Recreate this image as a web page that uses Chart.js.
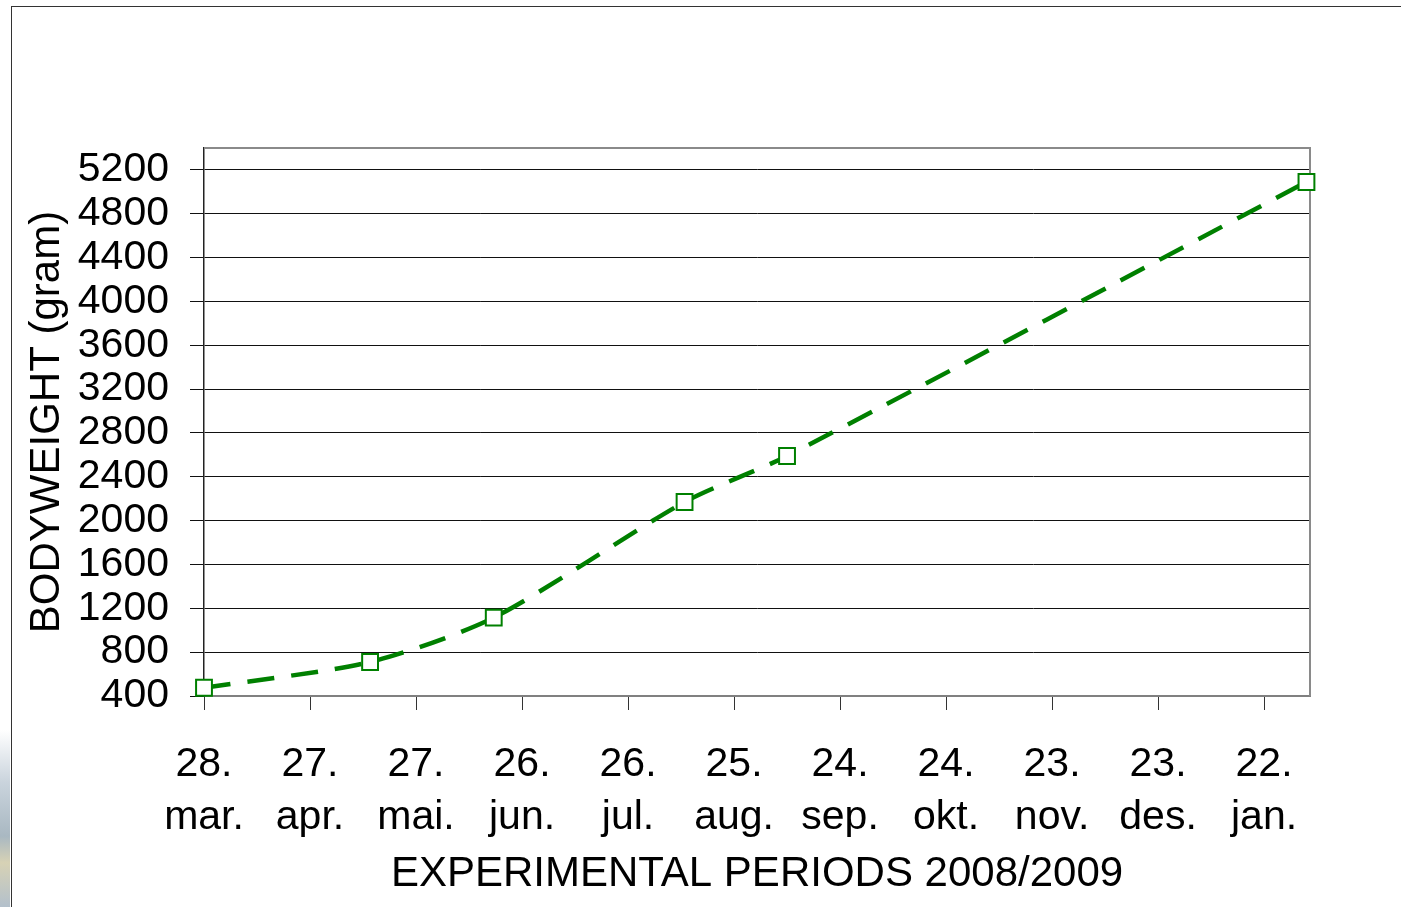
<!DOCTYPE html>
<html>
<head>
<meta charset="utf-8">
<script src="https://cdn.jsdelivr.net/npm/chart.js@4"></script>
<style>
  html,body{margin:0;padding:0;background:#fff;width:1401px;height:907px;overflow:hidden;}
  #frame{position:absolute;left:11px;top:6px;width:1500px;height:1000px;border:1.5px solid #333;box-sizing:border-box;}
  #photo{position:absolute;left:0;top:730px;width:10px;height:177px;background:linear-gradient(#ffffff,#c9d3dc 30%,#a9b8c2 60%,#d7d2b5 75%,#b3c0cc);}
  canvas{position:absolute;left:0;top:0;}
</style>
</head>
<body>
<div id="photo"></div>
<div id="frame"></div>
<canvas id="c" width="1401" height="907"></canvas>
<script>
// ---- data ----
const startDate = '2008-03-28';
const sampleDates = ['2008-03-28','2008-05-14','2008-06-18','2008-08-11','2008-09-09','2009-02-03'];
const bodyweight = [475, 710, 1115, 2170, 2590, 5090];
const xTickDays = [0,30,60,90,120,150,180,210,240,270,300];
const xTickLabels = [['28.','mar.'],['27.','apr.'],['27.','mai.'],['26.','jun.'],['26.','jul.'],['25.','aug.'],['24.','sep.'],['24.','okt.'],['23.','nov.'],['23.','des.'],['22.','jan.']];
const yTicks = [400,800,1200,1600,2000,2400,2800,3200,3600,4000,4400,4800,5200];
const yMin = 400, yMax = 5400, xMin = 0, xMax = 313;
const xTitle = 'EXPERIMENTAL PERIODS 2008/2009';
const yTitle = 'BODYWEIGHT (gram)';

const dayMs = 86400000;
const toDays = s => Math.round((Date.parse(s) - Date.parse(startDate)) / dayMs);
const points = sampleDates.map((d,i)=>({x: toDays(d), y: bodyweight[i]}));

const FONT = 'Liberation Sans, Arial, sans-serif';

const plotBorder = {
  id:'plotBorder',
  beforeDatasetsDraw(chart){
    const {ctx, chartArea:a} = chart;
    ctx.save();
    ctx.strokeStyle = '#8a8a8a';
    ctx.lineWidth = 2;
    ctx.beginPath();
    ctx.moveTo(a.left, a.top); ctx.lineTo(a.right, a.top); ctx.lineTo(a.right, a.bottom);
    ctx.stroke();
    ctx.restore();
  }
};

new Chart(document.getElementById('c'), {
  type: 'line',
  data: {
    datasets: [{
      data: points,
      borderColor: '#008000',
      borderWidth: 4.5,
      borderDash: [27, 17],
      borderCapStyle: 'butt',
      tension: 0.25,
      clip: false,
      pointStyle: 'rect',
      pointRadius: 11.2,
      pointBackgroundColor: '#ffffff',
      pointBorderColor: '#008000',
      pointBorderWidth: 2,
      fill: false
    }]
  },
  options: {
    responsive: false,
    animation: false,
    devicePixelRatio: 1,
    layout: { padding: { left: 0, top: 148, right: 91, bottom: 0 } },
    plugins: { legend: { display: false }, tooltip: { enabled: false } },
    scales: {
      x: {
        type: 'linear',
        min: xMin, max: xMax,
        afterBuildTicks: s => { s.ticks = xTickDays.map(v => ({value: v})); },
        afterFit: s => { s.height = 211; },
        ticks: {
          autoSkip: false, maxRotation: 0, minRotation: 0,
          color: '#000',
          font: { family: FONT, size: 41, lineHeight: 1.3 },
          padding: 28,
          callback: (v, i) => xTickLabels[i]
        },
        grid: { drawOnChartArea: false, drawTicks: true, tickLength: 14, color: '#333', lineWidth: 1 },
        border: { display: true, color: '#808080', width: 2 },
        title: { display: true, text: xTitle, color: '#000', font: { family: FONT, size: 42, lineHeight: 1.2 }, padding: { top: 0, bottom: 7 } }
      },
      y: {
        type: 'linear',
        min: yMin, max: yMax,
        afterBuildTicks: s => { s.ticks = yTicks.map(v => ({value: v})); },
        afterFit: s => { s.width = 204; },
        ticks: {
          autoSkip: false,
          color: '#000',
          font: { family: FONT, size: 41 },
          padding: 21,
          callback: v => String(v)
        },
        grid: { color: '#111', lineWidth: 1, drawTicks: true, tickLength: 14 },
        border: { display: true, color: '#222', width: 1.5 },
        title: { display: true, text: yTitle, color: '#000', font: { family: FONT, size: 42, lineHeight: 1.2 }, padding: { top: 22, bottom: 0 } }
      }
    }
  },
  plugins: [plotBorder]
});
</script>
</body>
</html>
